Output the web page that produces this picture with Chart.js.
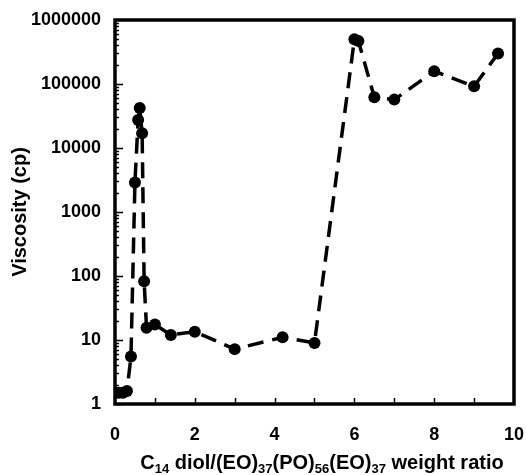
<!DOCTYPE html>
<html>
<head>
<meta charset="utf-8">
<script src="https://cdn.jsdelivr.net/npm/chart.js@4"></script>
<style>
html,body{margin:0;padding:0;background:#fff;}
#wrap{width:526px;height:475px;}
</style>
</head>
<body>
<div id="wrap"><canvas id="c" width="526" height="475"></canvas></div>
<script>
const ratios = [0, 0.1, 0.2, 0.3, 0.4, 0.5, 0.58, 0.62, 0.68, 0.73, 0.79, 1.0, 1.4, 2.0, 3.0, 4.2, 5.0, 6.0, 6.1, 6.5, 7.0, 8.0, 9.0, 9.6];
const viscosity = [1.5, 1.5, 1.5, 1.6, 5.5, 2900, 27500, 42000, 17000, 83, 15.5, 17.5, 12, 13.5, 7.2, 11, 9, 500000, 470000, 62000, 57000, 158000, 92000, 300000];
const xTicks = [0, 2, 4, 6, 8, 10];
const yTicks = [1, 10, 100, 1000, 10000, 100000, 1000000];
const yTitle = 'Viscosity (cp)';
const xTitleParts = [['C', false], ['14', true], [' diol/(EO)', false], ['37', true], ['(PO)', false], ['56', true], ['(EO)', false], ['37', true], [' weight ratio', false]];

const FONT = 'Liberation Sans, Arial, Helvetica, sans-serif';

const framePlugin = {
  id: 'frame',
  afterDraw(chart) {
    const {ctx, chartArea: a, scales} = chart;
    const x = scales.x, y = scales.y;
    ctx.save();
    ctx.strokeStyle = '#000';
    ctx.lineWidth = 1.5;
    // x minor ticks (inward)
    for (let v = 1; v < 10; v++) {
      const px = Math.round(x.getPixelForValue(v)) + 0.5;
      ctx.beginPath(); ctx.moveTo(px, a.bottom); ctx.lineTo(px, a.bottom - 6); ctx.stroke();
    }
    // y ticks (inward, log minor)
    for (let d = 0; d < 6; d++) {
      for (let m = 1; m < 10; m++) {
        const v = m * Math.pow(10, d);
        const py = Math.round(y.getPixelForValue(v)) + 0.5;
        const len = m === 1 ? 8 : 4;
        ctx.beginPath(); ctx.moveTo(a.left, py); ctx.lineTo(a.left + len, py); ctx.stroke();
      }
    }
    // frame
    ctx.lineWidth = 3.5;
    ctx.strokeRect(a.left, a.top, a.right - a.left, a.bottom - a.top);
    // x title with subscripts
    const big = 'bold 20px ' + FONT, small = 'bold 13px ' + FONT;
    let total = 0;
    for (const [t, sub] of xTitleParts) { ctx.font = sub ? small : big; total += ctx.measureText(t).width; }
    let cx = 322 - total / 2;
    const base = 469;
    ctx.fillStyle = '#000';
    ctx.textBaseline = 'alphabetic';
    ctx.textAlign = 'left';
    for (const [t, sub] of xTitleParts) {
      ctx.font = sub ? small : big;
      ctx.fillText(t, cx, sub ? base + 4 : base);
      cx += ctx.measureText(t).width;
    }
    ctx.restore();
  }
};

new Chart(document.getElementById('c'), {
  type: 'line',
  data: {
    datasets: [{
      data: ratios.map((r, i) => ({x: r, y: viscosity[i]})),
      borderColor: '#000',
      backgroundColor: '#000',
      borderWidth: 3.5,
      borderDash: [16, 9],
      pointRadius: 6,
      pointBackgroundColor: '#000',
      pointBorderColor: '#000',
      pointBorderWidth: 0,
      tension: 0,
      fill: false
    }]
  },
  plugins: [framePlugin],
  options: {
    responsive: false,
    animation: false,
    layout: {padding: {top: 20, right: 10, left: 0, bottom: 0}},
    plugins: {legend: {display: false}, tooltip: {enabled: false}},
    scales: {
      x: {
        type: 'linear', min: 0, max: 10,
        afterBuildTicks: s => { s.ticks = xTicks.map(v => ({value: v})); },
        afterFit: s => { s.height = 71; },
        grid: {display: true, drawOnChartArea: false, drawTicks: true, tickLength: 18, tickColor: 'rgba(0,0,0,0)'},
        border: {display: false},
        ticks: {color: '#000', padding: 2, font: {family: FONT, size: 18, weight: 'bold'}, maxRotation: 0}
      },
      y: {
        type: 'logarithmic', min: 1, max: 1000000,
        afterBuildTicks: s => { s.ticks = yTicks.map(v => ({value: v})); },
        afterFit: s => { s.width = 115; },
        grid: {display: true, drawOnChartArea: false, drawTicks: true, tickLength: 12, tickColor: 'rgba(0,0,0,0)'},
        border: {display: false},
        ticks: {color: '#000', padding: 2, font: {family: FONT, size: 18, weight: 'bold'}, callback: v => String(v)},
        title: {display: true, text: yTitle, color: '#000', font: {family: FONT, size: 20, weight: 'bold'}, padding: {top: 8, bottom: 0}}
      }
    }
  }
});
</script>
</body>
</html>
